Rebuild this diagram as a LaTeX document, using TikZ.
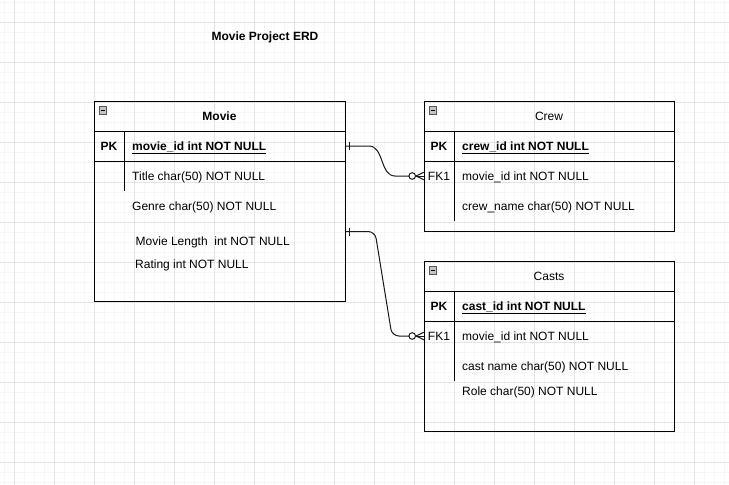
\documentclass[tikz,border=0pt]{standalone}
\usepackage{fontspec}
\setmainfont{Liberation Sans}
\usepackage{tikz}
\usetikzlibrary{positioning}
\definecolor{ink}{HTML}{000000}
\definecolor{edge}{HTML}{1A1A1A}
\definecolor{gridmaj}{HTML}{E4E4E4}
\definecolor{gridmin}{HTML}{F6F6F6}
\definecolor{iconfill}{HTML}{C4C4C4}
\definecolor{iconline}{HTML}{555555}
\tikzset{
  txt/.style={font=\fontsize{12pt}{14pt}\selectfont,inner sep=0pt,text height=8.6pt,text depth=0pt},
  tbl/.style={draw=ink,line width=1pt,inner sep=0pt,anchor=north west},
  sep/.style={draw=ink,line width=1pt},
  head/.style={txt},
  fld/.style={txt,anchor=west},
  keycol/.style={txt,font=\fontsize{12pt}{14pt}\selectfont\bfseries},
  fkcol/.style={txt},
  pkfld/.style={fld,font=\fontsize{12pt}{14pt}\selectfont\bfseries},
  icon/.style={draw=iconline,fill=iconfill,line width=0.6pt},
  rel/.style={draw=edge,line width=1pt},
}
\begin{document}
\begin{tikzpicture}[x=1pt,y=-1pt]
  \useasboundingbox[fill=white] (0,0) rectangle (729,485);
  % ---- background grid ----
  \foreach \x in {4,14,...,724} \draw[gridmin,line width=0.8pt] (\x,0) -- (\x,485);
  \foreach \y in {2,12,...,482} \draw[gridmin,line width=0.8pt] (0,\y) -- (729,\y);
  \foreach \x in {14,54,...,694} \draw[gridmaj,line width=0.8pt] (\x,0) -- (\x,485);
  \foreach \y in {22,62,...,462} \draw[gridmaj,line width=0.8pt] (0,\y) -- (729,\y);

  \node[head,font=\fontsize{12pt}{14pt}\selectfont\bfseries] (title) at (265,36) {Movie Project ERD};

  % ---- tables ----
  \node[tbl,minimum width=251pt,minimum height=200pt] (movie) at (94,101) {};
  \node[tbl,minimum width=250pt,minimum height=130pt] (crew) at (424,101) {};
  \node[tbl,minimum width=250pt,minimum height=170pt] (casts) at (424,261) {};

  \foreach \t in {movie,crew,casts} {
    \draw[sep] ([yshift=-30pt]\t.north west) -- ([yshift=-30pt]\t.north east);
    \draw[sep] ([yshift=-60pt]\t.north west) -- ([yshift=-60pt]\t.north east);
    \draw[icon] ([xshift=5pt,yshift=-5.5pt]\t.north west) rectangle ++(7.5,7.5);
    \draw[draw=ink,line width=0.8pt] ([xshift=6.8pt,yshift=-9.25pt]\t.north west) -- ++(3.9,0);
  }
  \draw[sep] ([xshift=30pt,yshift=-30pt]movie.north west) -- ++(0,60);
  \draw[sep] ([xshift=30pt,yshift=-30pt]crew.north west) -- ++(0,90);
  \draw[sep] ([xshift=30pt,yshift=-30pt]casts.north west) -- ++(0,90);

  % ---- Movie ----
  \node[head,font=\fontsize{12pt}{14pt}\selectfont\bfseries] (mvhead) at (219.5,116) {Movie};
  \node[keycol] (mvpk) at (109,146) {PK};
  \node[pkfld] (mvid) at (132,146) {\underline{movie\_id int NOT NULL}};
  \node[fld] (mvtitle) at (132,176) {Title char(50) NOT NULL};
  \node[fld] (mvgenre) at (132,206) {Genre char(50) NOT NULL};
  \node[fld] (mvlen) at (135.5,241.5) {Movie Length\ \ int NOT NULL};
  \node[fld] (mvrate) at (135,264.5) {Rating int NOT NULL};

  % ---- Crew ----
  \node[head] (crhead) at (549,116) {Crew};
  \node[keycol] (crpk) at (439,146) {PK};
  \node[pkfld] (crid) at (462,146) {\underline{crew\_id int NOT NULL}};
  \node[fkcol] (crfk) at (439,176) {FK1};
  \node[fld] (crmv) at (462,176) {movie\_id int NOT NULL};
  \node[fld] (crname) at (462,206) {crew\_name char(50) NOT NULL};

  % ---- Casts ----
  \node[head] (cahead) at (549,276) {Casts};
  \node[keycol] (capk) at (439,306) {PK};
  \node[pkfld] (caid) at (462,306) {\underline{cast\_id int NOT NULL}};
  \node[fkcol] (cafk) at (439,336) {FK1};
  \node[fld] (camv) at (462,336) {movie\_id int NOT NULL};
  \node[fld] (caname) at (462,366) {cast name char(50) NOT NULL};
  \node[fld] (carole) at (462,391) {Role char(50) NOT NULL};

  % ---- relations ----
  \coordinate (e1s) at (movie.east |- mvid);
  \coordinate (e1e) at (crew.west |- crfk);
  \coordinate (e2s) at ([yshift=-30pt]movie.east);
  \coordinate (e2e) at (casts.west |- cafk);

  \draw[rel] (e1s) -- ([xshift=23pt]e1s)
    .. controls ([xshift=38pt]e1s) and ([xshift=-44pt]e1e) .. ([xshift=-29pt]e1e)
    -- ([xshift=-15pt]e1e);
  \draw[rel,rounded corners=7pt] (e2s) -- ([xshift=29pt]e2s) -- ([xshift=-32pt]e2e)
    -- ([xshift=-15pt]e2e);

  \foreach \s in {e1s,e2s}
    \draw[rel] ([xshift=3pt,yshift=4pt]\s) -- ([xshift=3pt,yshift=-4pt]\s);
  \foreach \e in {e1e,e2e} {
    \draw[rel,fill=white] ([xshift=-11.8pt]\e) circle (3.3);
    \draw[rel] ([xshift=-8pt]\e) -- (\e);
    \draw[rel] ([yshift=3.8pt]\e) -- ([xshift=-8pt]\e) -- ([yshift=-3.8pt]\e);
  }
\end{tikzpicture}
\end{document}
